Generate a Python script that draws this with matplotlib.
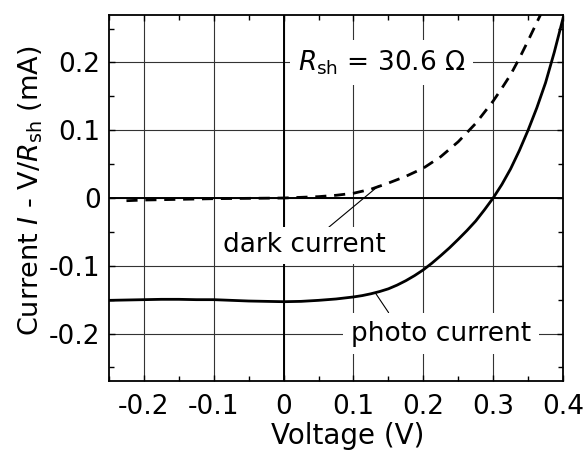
import matplotlib
matplotlib.use('Agg')
import matplotlib.pyplot as plt
from matplotlib.ticker import MultipleLocator

# Data
# photo current (solid)
v_photo = [-0.25, -0.225, -0.2, -0.175, -0.15, -0.125, -0.1, -0.075, -0.05, -0.025,
           0.0, 0.025, 0.05, 0.075, 0.1, 0.1125, 0.125, 0.1375, 0.15, 0.1625, 0.175,
           0.1875, 0.2, 0.2125, 0.225, 0.2375, 0.25, 0.2625, 0.275, 0.2875,
           0.3, 0.3125, 0.325, 0.3375, 0.35, 0.3625, 0.375, 0.3875, 0.4]
i_photo = [-0.151, -0.1505, -0.150, -0.1495, -0.1495, -0.150, -0.150, -0.151, -0.152, -0.1525,
           -0.153, -0.1525, -0.151, -0.149, -0.146, -0.144, -0.1413, -0.138, -0.134, -0.1285,
           -0.122, -0.1145, -0.106, -0.096, -0.085, -0.0735, -0.061, -0.048, -0.034, -0.0175,
           0.0, 0.02, 0.043, 0.07, 0.10, 0.133, 0.17, 0.215, 0.265]

# dark current (dashed)
v_dark = [-0.225, -0.2, -0.15, -0.1, -0.05, 0.0, 0.025, 0.05, 0.075, 0.1, 0.125, 0.15,
          0.175, 0.2, 0.225, 0.25, 0.275, 0.3, 0.3125, 0.325, 0.3375, 0.35, 0.3625, 0.37]
i_dark = [-0.004, -0.003, -0.002, -0.001, -0.0005, 0.0, 0.001, 0.002, 0.004, 0.007, 0.013,
          0.022, 0.032, 0.044, 0.061, 0.083, 0.11, 0.143, 0.162, 0.182, 0.206, 0.232,
          0.259, 0.275]

x_ticks = [-0.2, -0.1, 0.0, 0.1, 0.2, 0.3, 0.4]
x_tick_labels = ['-0.2', '-0.1', '0', '0.1', '0.2', '0.3', '0.4']
y_ticks = [-0.2, -0.1, 0.0, 0.1, 0.2]
y_tick_labels = ['-0.2', '-0.1', '0', '0.1', '0.2']

plt.rcParams['font.family'] = ['DejaVu Sans']
plt.rcParams['axes.unicode_minus'] = False
plt.rcParams['mathtext.fontset'] = 'dejavusans'

fig = plt.figure(figsize=(5.84, 4.5), dpi=100)
ax = fig.add_axes([109 / 584, 1 - 381 / 450, (563 - 109) / 584, (381 - 15) / 450])

ax.set_xlim(-0.25, 0.4)
ax.set_ylim(-0.27, 0.27)

# grid and zero lines
ax.grid(True, which='major', color='#333333', lw=0.8, zorder=1)
ax.set_axisbelow(True)
ax.axhline(0, color='black', lw=1.4, zorder=2)
ax.axvline(0, color='black', lw=1.4, zorder=2)

# curves
ax.plot(v_photo, i_photo, color='black', lw=2.0, zorder=5)
ax.plot(v_dark, i_dark, color='black', lw=2.0, dashes=(4, 2.8), zorder=5)

# ticks
ax.set_xticks(x_ticks)
ax.set_xticklabels(x_tick_labels)
ax.set_yticks(y_ticks)
ax.set_yticklabels(y_tick_labels)
ax.xaxis.set_minor_locator(MultipleLocator(0.05))
ax.yaxis.set_minor_locator(MultipleLocator(0.05))
ax.tick_params(which='both', direction='in', top=True, right=True, width=1.0, labelsize=19)
ax.tick_params(which='major', length=4)
ax.tick_params(which='minor', length=3.5)
ax.tick_params(axis='x', pad=9)
ax.tick_params(axis='y', pad=6)
for sp in ax.spines.values():
    sp.set_linewidth(1.3)

# labels
ax.set_xlabel('Voltage (V)', fontsize=20)
ax.xaxis.set_label_coords(0.526, -0.112)
ax.set_ylabel(r'Current $I$ - V/$R_{\mathrm{sh}}$ (mA)', fontsize=19.5)
ax.yaxis.set_label_coords(-0.14, 0.52)

box = dict(boxstyle='square,pad=0.3', fc='white', ec='none')

ax.text(0.14, 0.2, r'$R_{\mathrm{sh}}$ = 30.6 Ω', fontsize=19, ha='center', va='center',
        bbox=box, zorder=4)

ax.annotate('dark current', xy=(0.136, 0.018), xytext=(0.03, -0.07), fontsize=19,
            ha='center', va='center', bbox=dict(boxstyle='square,pad=0.2', fc='white', ec='none'),
            arrowprops=dict(arrowstyle='-', lw=0.8, color='black', shrinkA=0, shrinkB=0,
                            relpos=(0.61, 1.0)),
            zorder=4)

ax.annotate('photo current', xy=(0.131, -0.1395), xytext=(0.226, -0.2), fontsize=19,
            ha='center', va='center', bbox=box,
            arrowprops=dict(arrowstyle='-', lw=0.8, color='black', shrinkA=0, shrinkB=0,
                            relpos=(0.236, 1.0)),
            zorder=4)

fig.savefig('out.png', dpi=100)
